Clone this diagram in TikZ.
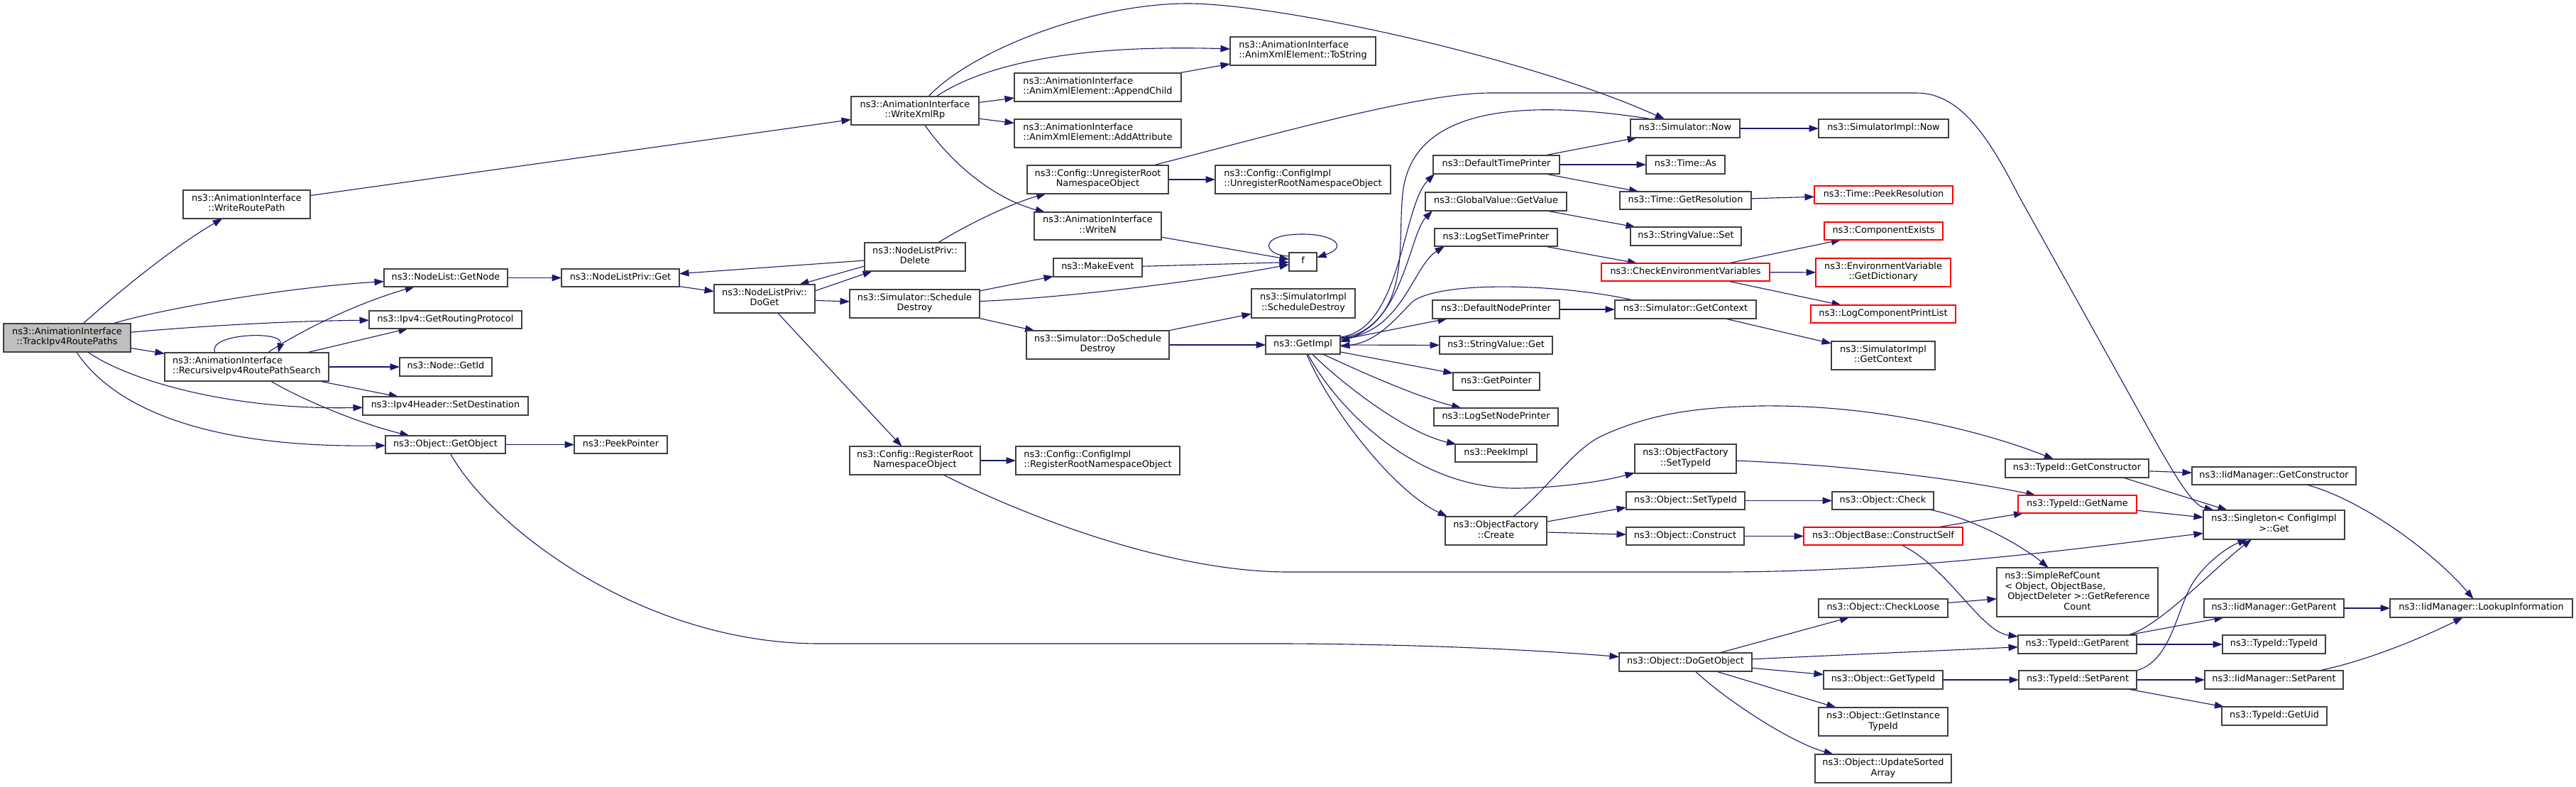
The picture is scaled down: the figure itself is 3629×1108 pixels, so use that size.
\documentclass[tikz,border=0pt]{standalone}
\usepackage{fontspec}
\setmainfont{DejaVu Sans}
\usetikzlibrary{arrows.meta}
\definecolor{edgec}{RGB}{25,25,112}
\definecolor{boxc}{RGB}{64,64,64}
\definecolor{rootfill}{RGB}{191,191,191}
\definecolor{redc}{RGB}{255,0,0}
\pgfdeclarelayer{bg}
\pgfsetlayers{bg,main}
\newcommand\nd[7][]{\node[box,#1,minimum width={(#5-#3)*1pt},minimum height={(#6-#4)*1pt}] (#2) at ({(#3+#5)/2},{(#4+#6)/2}) {#7};}
\tikzset{
  box/.style={draw=boxc, line width=1.3pt, fill=white, inner sep=0pt, outer sep=0pt, align=center,
    font=\fontsize{12.85}{14.6}\selectfont, execute at begin node=\strut, execute at end node=\strut},
  root/.style={fill=rootfill},
  lft/.style={align=left},
  redbox/.style={draw=redc},
  e/.style={draw=edgec, line width=1.1pt, -{Triangle[length=13.5pt,width=9.5pt]}},
}
\begin{document}
\begin{tikzpicture}[x=1pt,y=-1pt]
\useasboundingbox (0,0) rectangle (3629,1108);
\begin{pgfonlayer}{bg}
\fill[white] (0,0) rectangle (3629,1108);
\end{pgfonlayer}
% nodes
\nd[root]{T}{5}{456}{184}{496}{ns3::AnimationInterface\\::TrackIpv4RoutePaths}
\nd{WR}{258}{268}{437}{308}{ns3::AnimationInterface\\::WriteRoutePath}
\nd[lft]{R}{232}{497}{463}{537}{ns3::AnimationInterface\\::RecursiveIpv4RoutePathSearch}
\nd{GN}{541}{379}{715}{404}{ns3::NodeList::GetNode}
\nd{GRP}{520}{438}{735}{463}{ns3::Ipv4::GetRoutingProtocol}
\nd{GID}{563}{504}{693}{530}{ns3::Node::GetId}
\nd{SD}{511}{559}{744}{585}{ns3::Ipv4Header::SetDestination}
\nd{GO}{543}{614}{712}{639}{ns3::Object::GetObject}
\nd{PP}{809}{614}{940}{639}{ns3::PeekPointer}
\nd{NLG}{791}{379}{957}{404}{ns3::NodeListPriv::Get}
\nd{DG}{1006}{401}{1148}{441}{ns3::NodeListPriv::\\DoGet}
\nd{XR}{1199}{136}{1379}{176}{ns3::AnimationInterface\\::WriteXmlRp}
\nd{SCD}{1197}{408}{1380}{448}{ns3::Simulator::Schedule\\Destroy}
\nd[lft]{AC}{1429}{103}{1664}{143}{ns3::AnimationInterface\\::AnimXmlElement::AppendChild}
\nd[lft]{AA}{1429}{168}{1664}{208}{ns3::AnimationInterface\\::AnimXmlElement::AddAttribute}
\nd[lft]{TS}{1733}{52}{1938}{92}{ns3::AnimationInterface\\::AnimXmlElement::ToString}
\nd{UR}{1447}{233}{1646}{273}{ns3::Config::UnregisterRoot\\NamespaceObject}
\nd[lft]{CUR}{1712}{233}{1959}{273}{ns3::Config::ConfigImpl\\::UnregisterRootNamespaceObject}
\nd{WN}{1457}{299}{1636}{338}{ns3::AnimationInterface\\::WriteN}
\nd{DEL}{1218}{342}{1360}{382}{ns3::NodeListPriv::\\Delete}
\nd{ME}{1484}{364}{1609}{390}{ns3::MakeEvent}
\nd{SIS}{1763}{407}{1909}{448}{ns3::SimulatorImpl\\::ScheduleDestroy}
\nd{DSD}{1446}{466}{1647}{506}{ns3::Simulator::DoSchedule\\Destroy}
\nd{GI}{1783}{473}{1888}{499}{ns3::GetImpl}
\nd{F}{1816}{356}{1855}{382}{f}
\nd{RR}{1197}{629}{1381}{669}{ns3::Config::RegisterRoot\\NamespaceObject}
\nd[lft]{CRR}{1431}{629}{1662}{669}{ns3::Config::ConfigImpl\\::RegisterRootNamespaceObject}
\nd{SN}{2297}{168}{2451}{194}{ns3::Simulator::Now}
\nd{SIN}{2562}{168}{2745}{194}{ns3::SimulatorImpl::Now}
\nd{DTP}{2019}{219}{2197}{245}{ns3::DefaultTimePrinter}
\nd{TA}{2319}{219}{2430}{245}{ns3::Time::As}
\nd{GV}{2008}{271}{2207}{297}{ns3::GlobalValue::GetValue}
\nd{TGR}{2282}{270}{2467}{295}{ns3::Time::GetResolution}
\nd[redbox]{TPR}{2556}{262}{2751}{287}{ns3::Time::PeekResolution}
\nd{LSTP}{2021}{322}{2194}{347}{ns3::LogSetTimePrinter}
\nd{SVS}{2297}{320}{2453}{346}{ns3::StringValue::Set}
\nd[redbox]{CEV}{2256}{371}{2493}{396}{ns3::CheckEnvironmentVariables}
\nd[redbox]{CE}{2570}{313}{2737}{338}{ns3::ComponentExists}
\nd[redbox]{EVD}{2558}{364}{2748}{404}{ns3::EnvironmentVariable\\::GetDictionary}
\nd[redbox]{LCPL}{2551}{430}{2755}{455}{ns3::LogComponentPrintList}
\nd{DNP}{2018}{423}{2197}{449}{ns3::DefaultNodePrinter}
\nd{SGC}{2275}{423}{2474}{449}{ns3::Simulator::GetContext}
\nd{SIGC}{2580}{481}{2726}{521}{ns3::SimulatorImpl\\::GetContext}
\nd{SVG}{2028}{474}{2187}{499}{ns3::StringValue::Get}
\nd{GP}{2047}{525}{2169}{550}{ns3::GetPointer}
\nd{LSNP}{2020}{575}{2195}{600}{ns3::LogSetNodePrinter}
\nd{PI}{2050}{626}{2165}{651}{ns3::PeekImpl}
\nd{OFS}{2303}{626}{2446}{667}{ns3::ObjectFactory\\::SetTypeId}
\nd{OST}{2291}{693}{2458}{718}{ns3::Object::SetTypeId}
\nd{OFC}{2036}{728}{2179}{768}{ns3::ObjectFactory\\::Create}
\nd{OC}{2291}{743}{2457}{768}{ns3::Object::Construct}
\nd{DGO}{2281}{920}{2468}{946}{ns3::Object::DoGetObject}
\nd{TGC}{2825}{647}{3027}{673}{ns3::TypeId::GetConstructor}
\nd{OCK}{2581}{693}{2724}{718}{ns3::Object::Check}
\nd[redbox]{TGN}{2843}{698}{3010}{723}{ns3::TypeId::GetName}
\nd[redbox]{OCS}{2541}{743}{2765}{768}{ns3::ObjectBase::ConstructSelf}
\nd{SRC}{2813}{800}{3040}{869}{\begin{tabular}{@{}l@{}}ns3::SimpleRefCount\\< Object, ObjectBase,\\\hspace*{4pt}ObjectDeleter >::GetReference\\\multicolumn{1}{@{}c@{}}{Count}\end{tabular}}
\nd{OCL}{2562}{844}{2744}{870}{ns3::Object::CheckLoose}
\nd{TGP}{2843}{895}{3010}{921}{ns3::TypeId::GetParent}
\nd{OGT}{2569}{945}{2737}{971}{ns3::Object::GetTypeId}
\nd{TSP}{2844}{945}{3010}{971}{ns3::TypeId::SetParent}
\nd{OGIT}{2562}{997}{2744}{1037}{ns3::Object::GetInstance\\TypeId}
\nd{OUSA}{2557}{1063}{2749}{1103}{ns3::Object::UpdateSorted\\Array}
\nd{IGC}{3088}{658}{3319}{683}{ns3::IidManager::GetConstructor}
\nd{SG}{3104}{719}{3303}{760}{ns3::Singleton< ConfigImpl\\ >::Get}
\nd{IGP}{3105}{844}{3302}{870}{ns3::IidManager::GetParent}
\nd{ILI}{3367}{844}{3624}{870}{ns3::IidManager::LookupInformation}
\nd{TTI}{3131}{895}{3276}{921}{ns3::TypeId::TypeId}
\nd{ISP}{3106}{945}{3301}{971}{ns3::IidManager::SetParent}
\nd{TGU}{3130}{996}{3278}{1022}{ns3::TypeId::GetUid}
% edges
\begin{pgfonlayer}{bg}
\draw[e] (T) .. controls (180,400) and (250,345) .. (WR);
\draw[e] (T) .. controls (220,437) and (400,405) .. (GN);
\draw[e] (T) .. controls (300,458) and (420,452) .. (GRP);
\draw[e] (T) -- (R);
\draw[e] (T) .. controls (180,535) and (320,578) .. (SD);
\draw[e] (T) .. controls (150,560) and (260,632) .. (GO);
\draw[e] ([xshift=71pt]R.north west) .. controls (290,470) and (400,465) .. ([xshift=160pt]R.north west);
\draw[e] (R) .. controls (420,468) and (500,428) .. (GN);
\draw[e] (R) -- (GRP);
\draw[e] (R) -- (GID);
\draw[e] (R) -- (SD);
\draw[e] (R) .. controls (420,560) and (500,595) .. (GO);
\draw[e] (GN) -- (NLG);
\draw[e] (NLG) -- (DG);
\draw[e] (DEL) -- (NLG);
\draw[e] ([yshift=-13pt]DEL.west) -- ([xshift=-22pt]DG.north east);
\draw[e] ([yshift=11pt]DG.east) -- ([xshift=11pt]DEL.south west);
\draw[e] (DG) -- (SCD);
\draw[e] (DG) -- (RR);
\draw[e] (RR) -- (CRR);
\draw[e] (WR) -- (XR);
\draw[e] (XR) .. controls (1370,70) and (1540,5) .. (1673,5) .. controls (1800,5) and (2150,80) .. (SN);
\draw[e] (XR) .. controls (1380,95) and (1500,62) .. (TS);
\draw[e] (XR) -- (AC);
\draw[e] (XR) -- (AA);
\draw[e] (XR) .. controls (1340,230) and (1400,280) .. (WN);
\draw[e] (AC) -- (TS);
\draw[e] (UR) -- (CUR);
\draw[e] (UR) .. controls (1800,188) and (2000,131) .. (2100,131) -- (2700,131) .. controls (2760,131) and (2800,190) .. (2844,276) -- (3040,628) .. controls (3070,680) and (3090,712) .. (SG);
\draw[e] (DEL) .. controls (1370,312) and (1430,285) .. (UR);
\draw[e] (WN) -- (F);
\draw[e] (ME) -- (F);
\draw[e] (SCD) .. controls (1500,420) and (1700,395) .. (F);
\draw[e] (SCD) -- (ME);
\draw[e] (SCD) -- (DSD);
\draw[e] ([yshift=8pt]F.west) .. controls (1780,360) and (1770,330) .. (1835,330) .. controls (1880,330) and (1900,348) .. ([yshift=6pt]F.east);
\draw[e] (DSD) -- (SIS);
\draw[e] (DSD) -- (GI);
\draw[e] ([yshift=-2pt]GI.north east) .. controls (1975,465) and (1975,290) .. ([xshift=2pt]DTP.south west);
\draw[e] ([yshift=-3pt]GI.north east) .. controls (1975,470) and (1985,330) .. ([xshift=10pt]GV.south west);
\draw[e] ([yshift=-4pt]GI.north east) .. controls (1975,472) and (1990,375) .. ([xshift=14pt]LSTP.south west);
\draw[e] ([xshift=31pt]SN.north west) .. controls (2150,140) and (2000,150) .. (1978,260) .. controls (1965,330) and (1995,440) .. ([yshift=4pt]GI.east);
\draw[e] ([xshift=26pt]SGC.north west) .. controls (2200,400) and (2030,395) .. (1990,425) .. controls (1965,450) and (1940,482) .. ([yshift=-2pt]GI.east);
\draw[e] ([yshift=-6pt]GI.north east) -- ([xshift=21pt]DNP.south west);
\draw[e] (GI) -- (SVG);
\draw[e] (GI) -- (GP);
\draw[e] (GI) .. controls (1930,530) and (2000,560) .. (LSNP);
\draw[e] (GI) .. controls (1890,540) and (1980,610) .. (PI);
\draw[e] (GI) .. controls (1880,570) and (1990,690) .. (2139,688) .. controls (2200,687) and (2260,678) .. (OFS);
\draw[e] (GI) .. controls (1870,570) and (1960,690) .. ([xshift=3pt]OFC.north west);
\draw[e] (OFC) .. controls (2185,684) and (2215,635) .. (2255,615) .. controls (2330,580) and (2400,574) .. (2480,572) .. controls (2650,570) and (2800,610) .. (TGC);
\draw[e] (OFC) -- ([yshift=3pt]OST.south west);
\draw[e] (OFC) -- (OC);
\draw[e] (OFS) .. controls (2600,655) and (2760,675) .. (TGN);
\draw[e] (OST) -- (OCK);
\draw[e] (OC) -- (OCS);
\draw[e] (OCS) -- (TGN);
\draw[e] (OCS) .. controls (2745,800) and (2790,890) .. (TGP);
\draw[e] (OCK) .. controls (2780,730) and (2850,770) .. (SRC);
\draw[e] (OCL) -- (SRC);
\draw[e] (TGC) -- (IGC);
\draw[e] ([xshift=166pt]TGC.south west) -- (SG);
\draw[e] (TGN) -- (SG);
\draw[e] (RR) .. controls (1450,730) and (1650,806) .. (1815,806) -- (2420,806) .. controls (2700,806) and (2950,770) .. (SG);
\draw[e] (GO) .. controls (690,740) and (900,905) .. (1150,907) -- (1815,907) .. controls (2000,908) and (2150,915) .. (DGO);
\draw[e] (GO) -- (PP);
\draw[e] (DGO) -- (OCL);
\draw[e] (DGO) -- (TGP);
\draw[e] (DGO) -- (OGT);
\draw[e] (DGO) -- (OGIT);
\draw[e] (DGO) .. controls (2430,985) and (2520,1045) .. (OUSA);
\draw[e] (OGT) -- (TSP);
\draw[e] ([xshift=154pt]TGP.north west) .. controls (3040,885) and (3120,800) .. ([xshift=68pt]SG.south west);
\draw[e] ([xshift=166pt]TSP.north west) .. controls (3060,930) and (3065,860) .. (3090,820) .. controls (3110,790) and (3140,770) .. ([xshift=62pt]SG.south west);
\draw[e] (TGP) -- (IGP);
\draw[e] (TGP) -- (TTI);
\draw[e] (TSP) -- (ISP);
\draw[e] (TSP) -- (TGU);
\draw[e] (IGC) .. controls (3330,705) and (3430,780) .. (ILI);
\draw[e] (IGP) -- (ILI);
\draw[e] (ISP) .. controls (3340,930) and (3420,895) .. (ILI);
\draw[e] (SN) -- (SIN);
\draw[e] (DTP) -- (SN);
\draw[e] (DTP) -- (TA);
\draw[e] (DTP) -- (TGR);
\draw[e] (TGR) -- (TPR);
\draw[e] (GV) -- (SVS);
\draw[e] (LSTP) -- (CEV);
\draw[e] (CEV) -- (CE);
\draw[e] (CEV) -- (EVD);
\draw[e] (CEV) -- (LCPL);
\draw[e] (DNP) -- (SGC);
\draw[e] (SGC) -- (SIGC);
\end{pgfonlayer}
\end{tikzpicture}
\end{document}
